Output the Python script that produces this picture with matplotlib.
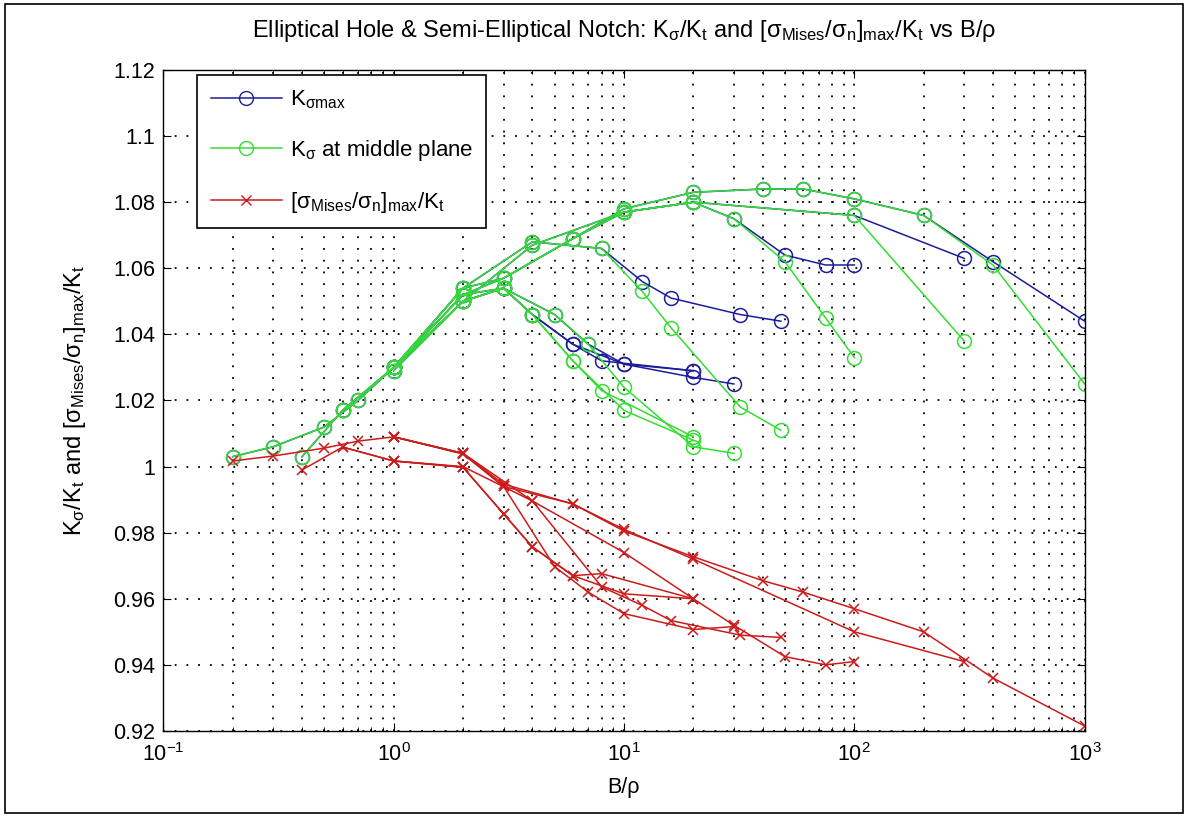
import matplotlib
matplotlib.use("Agg")
import matplotlib.pyplot as plt
from matplotlib.lines import Line2D
from matplotlib.patches import Rectangle
from matplotlib.ticker import FixedLocator, FuncFormatter, LogLocator, NullFormatter

plt.rcParams['font.family'] = ['Liberation Sans', 'DejaVu Sans']
plt.rcParams['mathtext.fontset'] = 'custom'
plt.rcParams['mathtext.rm'] = 'Liberation Sans'
plt.rcParams['mathtext.it'] = 'Liberation Sans'

# ---- data: one entry per geometry ----
# x = B/rho, green = K_sigma at middle plane, blue = K_sigma max, red = [s_Mises/s_n]max/Kt
g1_x = [1, 2, 3, 6, 10, 20, 40, 60, 100, 200, 400, 1000]
g1_green = [1.030, 1.052, 1.057, 1.069, 1.078, 1.083, 1.084, 1.084, 1.081, 1.076, 1.061, 1.025]
g1_blue = [1.030, 1.052, 1.057, 1.069, 1.078, 1.083, 1.084, 1.084, 1.081, 1.076, 1.062, 1.044]
g1_red = [1.009, 1.004, 0.994, 0.9887, 0.9805, 0.9727, 0.9655, 0.962, 0.957, 0.950, 0.936, 0.9215]

g2_x = [1, 2, 4, 10, 20, 30, 50, 75, 100]
g2_green = [1.029, 1.050, 1.067, 1.077, 1.080, 1.075, 1.062, 1.045, 1.033]
g2_blue = [1.029, 1.050, 1.067, 1.077, 1.080, 1.075, 1.064, 1.061, 1.061]
g2_red = [1.0017, 1.000, 0.9896, 0.974, 0.960, 0.952, 0.9425, 0.940, 0.941]

g3_x = [1, 2, 3, 6, 10, 20, 100, 300]
g3_green = [1.030, 1.054, 1.057, 1.069, 1.077, 1.080, 1.076, 1.038]
g3_blue = [1.030, 1.054, 1.057, 1.069, 1.077, 1.080, 1.076, 1.063]
g3_red = [1.009, 1.004, 0.9947, 0.9887, 0.981, 0.972, 0.950, 0.941]

g4_x = [1, 2, 4, 8, 12, 16, 32, 48]
g4_green = [1.030, 1.054, 1.068, 1.066, 1.053, 1.042, 1.018, 1.011]
g4_blue = [1.030, 1.054, 1.068, 1.066, 1.056, 1.051, 1.046, 1.044]
g4_red = [1.009, 1.004, 0.9896, 0.9636, 0.958, 0.9534, 0.949, 0.9483]

g5_x = [0.2, 0.3, 0.5, 0.7, 1, 2, 3, 5, 7, 10, 20, 30]
g5_green = [1.003, 1.006, 1.012, 1.020, 1.030, 1.052, 1.054, 1.046, 1.037, 1.024, 1.006, 1.004]
g5_blue = [1.003, 1.006, 1.012, 1.020, 1.030, 1.052, 1.054, 1.046, 1.037, 1.031, 1.027, 1.025]
g5_red = [1.0017, 1.0032, 1.0056, 1.0077, 1.009, 1.0038, 0.994, 0.9697, 0.962, 0.9555, 0.9507, 0.9516]

g6_x = [0.4, 0.6, 1, 2, 3, 4, 6, 10, 20]
g6_green = [1.003, 1.017, 1.030, 1.050, 1.054, 1.046, 1.032, 1.017, 1.008]
g6_blue = [1.003, 1.017, 1.030, 1.050, 1.054, 1.046, 1.037, 1.031, 1.029]
g6_red = [0.999, 1.0059, 1.0017, 0.9998, 0.9857, 0.9757, 0.967, 0.9615, 0.960]

g7_x = [0.6, 1, 2, 3, 4, 6, 8, 20]
g7_green = [1.017, 1.030, 1.050, 1.054, 1.046, 1.032, 1.023, 1.009]
g7_blue = [1.017, 1.030, 1.050, 1.054, 1.046, 1.037, 1.032, 1.029]
g7_red = [1.0059, 1.0017, 0.9998, 0.9857, 0.9757, 0.967, 0.9676, 0.960]

groups = [
    (g1_x, g1_green, g1_blue, g1_red),
    (g2_x, g2_green, g2_blue, g2_red),
    (g3_x, g3_green, g3_blue, g3_red),
    (g4_x, g4_green, g4_blue, g4_red),
    (g5_x, g5_green, g5_blue, g5_red),
    (g6_x, g6_green, g6_blue, g6_red),
    (g7_x, g7_green, g7_blue, g7_red),
]

yticks = [0.92, 0.94, 0.96, 0.98, 1.0, 1.02, 1.04, 1.06, 1.08, 1.1, 1.12]

BLUE = '#1c1c9c'
GREEN = '#33dd33'
RED = '#cc1b1b'
DOTS = (0, (1, 5.5))

fig = plt.figure(figsize=(11.88, 8.17), dpi=100)
fig.patch.set_facecolor('white')
fig.patches.append(Rectangle((0.004, 0.005), 0.992, 0.99, transform=fig.transFigure,
                             fill=False, edgecolor='black', linewidth=1.2))
ax = fig.add_axes([0.1375, 0.1053, 0.7755, 0.809])

for x, g, b, r in groups:
    ax.plot(x, b, color=BLUE, marker='o', ms=10, mfc='none', mew=1.1, lw=1.1)
for x, g, b, r in groups:
    ax.plot(x, g, color=GREEN, marker='o', ms=10, mfc='none', mew=1.1, lw=1.1)
for x, g, b, r in groups:
    ax.plot(x, r, color=RED, marker='x', ms=7, mew=1.1, lw=1.1)

ax.set_xscale('log')
ax.set_xlim(0.1, 1000)
ax.set_ylim(0.92, 1.12)
ax.yaxis.set_major_locator(FixedLocator(yticks))
ax.yaxis.set_major_formatter(FuncFormatter(lambda v, p: '%g' % round(v, 2)))
ax.xaxis.set_minor_locator(LogLocator(base=10, subs=range(2, 10), numticks=20))
ax.xaxis.set_minor_formatter(NullFormatter())

ax.grid(True, which='major', axis='both', linestyle=DOTS, color='black', linewidth=1.3)
ax.grid(True, which='minor', axis='x', linestyle=DOTS, color='black', linewidth=1.3)
ax.tick_params(which='both', direction='in', top=True, right=True, labelsize=15.5)
ax.tick_params(axis='x', pad=9)
ax.tick_params(axis='y', pad=6)
ax.tick_params(which='major', length=6)
ax.tick_params(which='minor', length=3)
for s in ax.spines.values():
    s.set_linewidth(1.0)

ax.set_title(r'Elliptical Hole & Semi-Elliptical Notch: $\mathregular{K_\sigma/K_t}$ and '
             r'$\mathregular{[\sigma_{Mises}/\sigma_n]_{max}/K_t}$ vs B/ρ', fontsize=17, pad=24)
ax.set_xlabel('B/ρ', fontsize=15.5, labelpad=8)
ax.set_ylabel(r'$\mathregular{K_\sigma/K_t}$ and $\mathregular{[\sigma_{Mises}/\sigma_n]_{max}/K_t}$',
              fontsize=17, labelpad=18)

handles = [
    Line2D([], [], color=BLUE, marker='o', ms=10, mfc='none', lw=1.1),
    Line2D([], [], color=GREEN, marker='o', ms=10, mfc='none', lw=1.1),
    Line2D([], [], color=RED, marker='x', ms=7, lw=1.1),
]
labels = [r'$\mathregular{K_{\sigma max}}$',
          r'$\mathregular{K_\sigma}$ at middle plane',
          r'$\mathregular{[\sigma_{Mises}/\sigma_n]_{max}/K_t}$']
leg = ax.legend(handles, labels, loc='upper left', bbox_to_anchor=(0.037, 0.992),
                borderaxespad=0, fontsize=16, handlelength=3.2, handletextpad=0.35,
                fancybox=False, edgecolor='black', framealpha=1, labelspacing=1.2,
                borderpad=0.6)
leg.get_frame().set_linewidth(1.2)

fig.savefig('out.png', dpi=100)
